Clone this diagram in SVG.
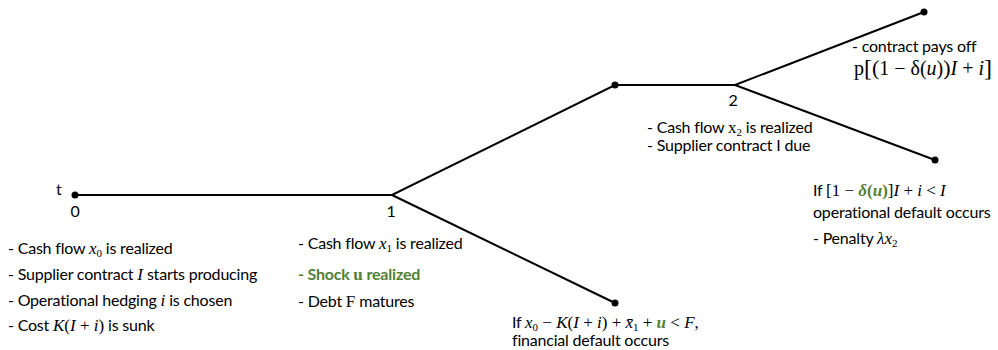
<svg xmlns="http://www.w3.org/2000/svg" width="998" height="350" viewBox="0 0 998 350">
<style>
.t{font-family:Lato,"Open Sans","Liberation Sans",sans-serif;font-size:16px;letter-spacing:-0.2px;fill:#000}
.m{font-family:"Liberation Serif","DejaVu Serif",serif;font-style:italic;font-size:17px;letter-spacing:0}
.r{font-family:"Liberation Serif","DejaVu Serif",serif;font-size:17px;letter-spacing:0}
.s{font-family:"Liberation Serif","DejaVu Serif",serif;font-size:11px;letter-spacing:0}
.g{fill:#538135}
.b{font-weight:bold}
.ln{stroke:#000;stroke-width:2;fill:none}
.dot{fill:#000}
.f{font-family:"Liberation Serif","DejaVu Serif",serif;font-size:20px}
</style>
<g id="connectors">
<polyline class="ln" points="75,195 392,195 615,85 735,85 924,12"/>
<line class="ln" x1="392" y1="195" x2="615" y2="303"/>
<line class="ln" x1="735" y1="85" x2="935" y2="160"/>
</g>
<g id="node0">
<circle class="dot" cx="75" cy="195" r="3.5"/>
<text class="t" x="56" y="195" font-size="18">t</text>
<text class="t" x="75" y="217" font-size="18" text-anchor="middle">0</text>
<text class="t" x="8" y="254">- Cash flow <tspan class="m">x</tspan><tspan class="s" dy="3">0</tspan><tspan dy="-3"> is realized</tspan></text>
<text class="t" x="8" y="280">- Supplier contract <tspan class="m">I</tspan> starts producing</text>
<text class="t" x="8" y="306">- Operational hedging <tspan class="m">i</tspan> is chosen</text>
<text class="t" x="8" y="331">- Cost <tspan class="m">K</tspan><tspan class="r">(</tspan><tspan class="m">I</tspan><tspan class="r"> + </tspan><tspan class="m">i</tspan><tspan class="r">)</tspan> is sunk</text>
</g>
<g id="node1">
<text class="t" x="391" y="217" font-size="18" text-anchor="middle">1</text>
<text class="t" x="298" y="249">- Cash flow <tspan class="m">x</tspan><tspan class="s" dy="3">1</tspan><tspan dy="-3"> is realized</tspan></text>
<text class="t g b" x="298" y="280">- Shock <tspan class="r b">u</tspan> realized</text>
<text class="t" x="298" y="307">- Debt <tspan class="r">F</tspan> matures</text>
</g>
<g id="node-fin">
<circle class="dot" cx="615" cy="303" r="3.5"/>
<text class="t" x="512" y="328">If <tspan class="m">x</tspan><tspan class="s" dy="3">0</tspan><tspan class="r" dy="-3"> − </tspan><tspan class="m">K</tspan><tspan class="r">(</tspan><tspan class="m">I</tspan><tspan class="r"> + </tspan><tspan class="m">i</tspan><tspan class="r">) + </tspan><tspan class="m">x̄</tspan><tspan class="s" dy="3">1</tspan><tspan class="r" dy="-3"> + </tspan><tspan class="m g b">u</tspan><tspan class="r"> &lt; </tspan><tspan class="m">F</tspan><tspan class="r">,</tspan></text>
<text class="t" x="512" y="346">financial default occurs</text>
</g>
<g id="node-mid">
<circle class="dot" cx="615" cy="85" r="3.5"/>
</g>
<g id="node2">
<text class="t" x="733" y="106" font-size="18" text-anchor="middle">2</text>
<text class="t" x="647" y="133">- Cash flow <tspan class="r">x</tspan><tspan class="s" dy="3">2</tspan><tspan dy="-3"> is realized</tspan></text>
<text class="t" x="647" y="151">- Supplier contract I due</text>
</g>
<g id="node-pay">
<circle class="dot" cx="924" cy="12" r="3.5"/>
<text class="t" x="852" y="52">- contract pays off</text>
<text class="f" x="854" y="75" textLength="138" lengthAdjust="spacing">p<tspan font-size="24" dy="1">[</tspan><tspan font-size="22" dy="-1">(</tspan>1 − δ(<tspan font-style="italic">u</tspan>)<tspan font-size="22">)</tspan><tspan font-style="italic">I</tspan> + <tspan font-style="italic">i</tspan><tspan font-size="24" dy="1">]</tspan></text>
</g>
<g id="node-op">
<circle class="dot" cx="935" cy="160" r="3.5"/>
<text class="t" x="813" y="196">If <tspan class="r">[1 − </tspan><tspan class="m g b">δ</tspan><tspan class="r g b">(</tspan><tspan class="m g b">u</tspan><tspan class="r g b">)</tspan><tspan class="r">]</tspan><tspan class="m">I</tspan><tspan class="r"> + </tspan><tspan class="m">i</tspan><tspan class="r"> &lt; </tspan><tspan class="m">I</tspan></text>
<text class="t" x="813" y="218">operational default occurs</text>
<text class="t" x="813" y="244">- Penalty  <tspan class="m">λx</tspan><tspan class="s" dy="3">2</tspan></text>
</g>
</svg>
